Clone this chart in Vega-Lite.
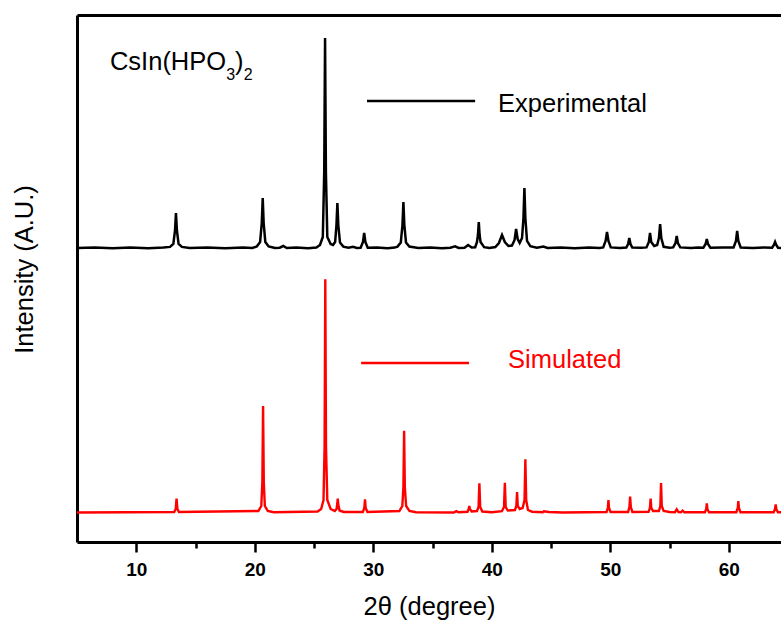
{
  "$schema": "https://vega.github.io/schema/vega-lite/v6.json",
  "width": 704,
  "height": 527,
  "autosize": {"type": "none"},
  "padding": {"left": 77, "top": 15, "right": 0, "bottom": 82},
  "config": {"view": {"stroke": null}, "font": "Liberation Sans"},
  "resolve": {"axis": {"x": "independent", "y": "independent"}},
  "datasets": {
    "experimental": [
      {"angle":5,"intensity":294},{"angle":6.5,"intensity":294.6},{"angle":8,"intensity":293.7},{"angle":9.5,"intensity":294.5},{"angle":11,"intensity":293.8},{"angle":12.3,"intensity":294.4},
      {"angle":12.85,"intensity":295.1},{"angle":13.13,"intensity":298.2},{"angle":13.27,"intensity":311.5},{"angle":13.35,"intensity":329},{"angle":13.43,"intensity":311.5},{"angle":13.57,"intensity":298.2},{"angle":13.85,"intensity":295.1},
      {"angle":14.5,"intensity":294},{"angle":16,"intensity":294.6},{"angle":17.5,"intensity":293.8},{"angle":19,"intensity":294.4},{"angle":19.8,"intensity":294},
      {"angle":20.17,"intensity":295.5},{"angle":20.45,"intensity":300},{"angle":20.59,"intensity":319},{"angle":20.67,"intensity":344},{"angle":20.75,"intensity":319},{"angle":20.89,"intensity":300},{"angle":21.17,"intensity":295.5},
      {"angle":21.7,"intensity":294},{"angle":22.1,"intensity":294.3},{"angle":22.4,"intensity":296},{"angle":22.7,"intensity":294},{"angle":23.5,"intensity":294.6},{"angle":24.5,"intensity":293.8},{"angle":25.2,"intensity":294.5},
      {"angle":25.5,"intensity":297},{"angle":25.74,"intensity":305},{"angle":25.86,"intensity":370},{"angle":25.93,"intensity":504},{"angle":26.0,"intensity":370},{"angle":26.12,"intensity":305},{"angle":26.4,"intensity":298},{"angle":26.6,"intensity":297},
      {"angle":26.78,"intensity":300},{"angle":26.89,"intensity":316.5},{"angle":26.97,"intensity":339},{"angle":27.05,"intensity":316.5},{"angle":27.19,"intensity":299.4},{"angle":27.47,"intensity":295.4},
      {"angle":27.9,"intensity":294.2},{"angle":28.3,"intensity":295.2},{"angle":28.6,"intensity":294},
      {"angle":28.93,"intensity":294.3},{"angle":29.13,"intensity":300},{"angle":29.23,"intensity":309},{"angle":29.33,"intensity":300},{"angle":29.53,"intensity":294.3},
      {"angle":30.3,"intensity":294.6},{"angle":31.2,"intensity":293.8},{"angle":31.8,"intensity":294.4},
      {"angle":32.04,"intensity":295.4},{"angle":32.32,"intensity":299.5},{"angle":32.46,"intensity":317},{"angle":32.54,"intensity":340},{"angle":32.62,"intensity":317},{"angle":32.76,"intensity":299.5},{"angle":33.04,"intensity":295.4},
      {"angle":33.8,"intensity":294},{"angle":34.8,"intensity":294.6},{"angle":35.8,"intensity":293.8},{"angle":36.5,"intensity":294.2},{"angle":36.9,"intensity":295.6},{"angle":37.2,"intensity":294},{"angle":37.7,"intensity":294.3},{"angle":38.0,"intensity":297},{"angle":38.3,"intensity":294.5},
      {"angle":38.6,"intensity":294.8},{"angle":38.75,"intensity":300},{"angle":38.83,"intensity":307},{"angle":38.9,"intensity":320},{"angle":38.97,"intensity":307},{"angle":39.05,"intensity":300},{"angle":39.35,"intensity":294.8},
      {"angle":39.8,"intensity":294},{"angle":40.3,"intensity":295},{"angle":40.6,"intensity":299},{"angle":40.86,"intensity":307},{"angle":41.1,"intensity":300},{"angle":41.4,"intensity":296},
      {"angle":41.7,"intensity":296.5},{"angle":41.92,"intensity":302},{"angle":42.05,"intensity":313},{"angle":42.18,"intensity":303},{"angle":42.35,"intensity":299},
      {"angle":42.55,"intensity":304},{"angle":42.67,"intensity":324},{"angle":42.75,"intensity":354},{"angle":42.83,"intensity":324},{"angle":42.97,"intensity":301.2},{"angle":43.25,"intensity":295.8},
      {"angle":43.8,"intensity":294.3},{"angle":44.35,"intensity":295.4},{"angle":44.7,"intensity":294},{"angle":45.8,"intensity":294.6},{"angle":47,"intensity":293.8},{"angle":48.2,"intensity":294.5},{"angle":49.1,"intensity":294},
      {"angle":49.4,"intensity":294.6},{"angle":49.6,"intensity":301},{"angle":49.72,"intensity":310},{"angle":49.84,"intensity":301},{"angle":50.04,"intensity":294.6},
      {"angle":50.8,"intensity":294},{"angle":51.35,"intensity":294.4},{"angle":51.5,"intensity":298},{"angle":51.6,"intensity":304},{"angle":51.7,"intensity":298},{"angle":51.85,"intensity":294.4},
      {"angle":52.6,"intensity":294.2},{"angle":53.05,"intensity":294.6},{"angle":53.25,"intensity":300},{"angle":53.35,"intensity":309},{"angle":53.45,"intensity":300},{"angle":53.7,"intensity":296},
      {"angle":53.95,"intensity":297},{"angle":54.1,"intensity":304},{"angle":54.2,"intensity":318},{"angle":54.3,"intensity":304},{"angle":54.5,"intensity":295.2},
      {"angle":55.0,"intensity":294.2},{"angle":55.3,"intensity":294.6},{"angle":55.5,"intensity":299},{"angle":55.6,"intensity":306},{"angle":55.7,"intensity":299},{"angle":55.9,"intensity":294.6},
      {"angle":56.8,"intensity":294},{"angle":57.4,"intensity":294.5},{"angle":57.85,"intensity":294.3},{"angle":58.04,"intensity":298},{"angle":58.14,"intensity":303},{"angle":58.24,"intensity":298},{"angle":58.44,"intensity":294.3},
      {"angle":59.5,"intensity":294.6},{"angle":60.4,"intensity":294.5},{"angle":60.6,"intensity":301},{"angle":60.7,"intensity":311},{"angle":60.8,"intensity":301},{"angle":61.0,"intensity":294.5},
      {"angle":62,"intensity":294},{"angle":63,"intensity":294.5},{"angle":63.65,"intensity":294.3},{"angle":63.8,"intensity":297},{"angle":63.9,"intensity":300},{"angle":64,"intensity":297},{"angle":64.15,"intensity":294.3},{"angle":64.4,"intensity":294},{"angle":65,"intensity":294}
    ],
    "simulated": [
      {"angle":5,"intensity":29.5},{"angle":13.2,"intensity":30},{"angle":13.33,"intensity":33},{"angle":13.4,"intensity":43.5},{"angle":13.47,"intensity":33},{"angle":13.6,"intensity":30},
      {"angle":20.3,"intensity":31},{"angle":20.55,"intensity":36},{"angle":20.64,"intensity":60},{"angle":20.7,"intensity":136},{"angle":20.76,"intensity":60},{"angle":20.85,"intensity":36},{"angle":21.1,"intensity":31},{"angle":21.6,"intensity":29.8},
      {"angle":25.3,"intensity":30.5},{"angle":25.6,"intensity":33},{"angle":25.8,"intensity":42},{"angle":25.89,"intensity":95},{"angle":25.95,"intensity":262.7},{"angle":26.01,"intensity":95},{"angle":26.12,"intensity":42},{"angle":26.4,"intensity":33},{"angle":26.75,"intensity":31},
      {"angle":26.9,"intensity":33},{"angle":26.96,"intensity":38},{"angle":27.0,"intensity":43.3},{"angle":27.04,"intensity":38},{"angle":27.15,"intensity":31.5},{"angle":27.5,"intensity":30},
      {"angle":29.12,"intensity":30},{"angle":29.24,"intensity":34},{"angle":29.3,"intensity":42.7},{"angle":29.36,"intensity":34},{"angle":29.5,"intensity":30},
      {"angle":32.2,"intensity":31},{"angle":32.45,"intensity":36},{"angle":32.54,"intensity":55},{"angle":32.6,"intensity":111.3},{"angle":32.66,"intensity":55},{"angle":32.77,"intensity":36},{"angle":33.05,"intensity":31},{"angle":33.6,"intensity":29.8},
      {"angle":36.8,"intensity":29.5},{"angle":37.0,"intensity":30.8},{"angle":37.2,"intensity":29.7},
      {"angle":37.95,"intensity":30.2},{"angle":38.05,"intensity":33},{"angle":38.1,"intensity":36},{"angle":38.15,"intensity":33},{"angle":38.3,"intensity":30.5},
      {"angle":38.75,"intensity":31},{"angle":38.88,"intensity":35},{"angle":38.95,"intensity":58.7},{"angle":39.02,"intensity":35},{"angle":39.2,"intensity":30.5},{"angle":40.0,"intensity":29.8},
      {"angle":40.85,"intensity":30.8},{"angle":41.03,"intensity":35},{"angle":41.1,"intensity":59.3},{"angle":41.17,"intensity":35},{"angle":41.35,"intensity":31.5},
      {"angle":41.95,"intensity":32},{"angle":42.07,"intensity":36},{"angle":42.13,"intensity":50},{"angle":42.19,"intensity":36},{"angle":42.35,"intensity":33},
      {"angle":42.6,"intensity":34},{"angle":42.76,"intensity":42},{"angle":42.83,"intensity":82.7},{"angle":42.9,"intensity":42},{"angle":43.05,"intensity":32},{"angle":43.4,"intensity":30.3},
      {"angle":44.3,"intensity":29.8},{"angle":44.4,"intensity":30.8},{"angle":44.8,"intensity":30},{"angle":46,"intensity":29.5},
      {"angle":49.68,"intensity":30},{"angle":49.79,"intensity":34},{"angle":49.84,"intensity":42},{"angle":49.89,"intensity":34},{"angle":50.02,"intensity":30},
      {"angle":51.5,"intensity":30},{"angle":51.61,"intensity":35},{"angle":51.67,"intensity":45.5},{"angle":51.73,"intensity":35},{"angle":51.86,"intensity":30},
      {"angle":53.23,"intensity":30.2},{"angle":53.34,"intensity":34},{"angle":53.4,"intensity":43.5},{"angle":53.46,"intensity":34},{"angle":53.6,"intensity":31},
      {"angle":54.1,"intensity":31},{"angle":54.22,"intensity":36},{"angle":54.28,"intensity":59},{"angle":54.34,"intensity":36},{"angle":54.5,"intensity":31},{"angle":55.0,"intensity":30},
      {"angle":55.45,"intensity":29.8},{"angle":55.6,"intensity":32.7},{"angle":55.75,"intensity":29.9},{"angle":55.95,"intensity":29.7},{"angle":56.1,"intensity":31.3},{"angle":56.25,"intensity":29.7},
      {"angle":57.98,"intensity":29.8},{"angle":58.09,"intensity":33},{"angle":58.14,"intensity":38.7},{"angle":58.19,"intensity":33},{"angle":58.32,"intensity":29.8},
      {"angle":60.63,"intensity":29.8},{"angle":60.75,"intensity":34},{"angle":60.8,"intensity":41},{"angle":60.85,"intensity":34},{"angle":60.98,"intensity":29.8},
      {"angle":63.78,"intensity":29.8},{"angle":63.9,"intensity":33},{"angle":63.95,"intensity":37.7},{"angle":64.0,"intensity":33},{"angle":64.14,"intensity":29.8},{"angle":65,"intensity":29.5}
    ],
    "legendLines": [
      {"angle":29.47,"intensity":441,"pattern":"Experimental"},{"angle":38.59,"intensity":441,"pattern":"Experimental"},
      {"angle":28.97,"intensity":179,"pattern":"Simulated"},{"angle":38.08,"intensity":179,"pattern":"Simulated"}
    ],
    "legendText": [
      {"angle":40.53,"intensity":438,"pattern":"Experimental"},
      {"angle":41.37,"intensity":182,"pattern":"Simulated"}
    ],
    "formula": [
      {"angle":7.78,"intensity":472,"text":"CsIn(HPO"},
      {"angle":18.34,"intensity":472,"text":")"}
    ],
    "subscripts": [
      {"angle":17.59,"intensity":462,"text":"3"},
      {"angle":19.06,"intensity":462,"text":"2"}
    ]
  },
  "layer": [
    {
      "data": {"name": "experimental"},
      "mark": {"type": "line", "clip": true, "color": "#000000", "strokeWidth": 2.5},
      "encoding": {
        "x": {"field": "angle", "type": "quantitative",
          "scale": {"domain": [5, 64.4], "nice": false, "zero": false},
          "axis": {"orient": "bottom", "values": [10,15,20,25,30,35,40,45,50,55,60],
            "title": "2θ (degree)", "titleFontSize": 25.5, "titleFontWeight": "normal", "titleColor": "#000000", "titlePadding": 15,
            "labelExpr": "datum.value % 10 === 0 ? datum.label : ''",
            "labelFontSize": 19, "labelFontWeight": "bold", "labelColor": "#000000", "labelPadding": 8, "labelFlush": false,
            "tickSize": {"condition": {"test": "datum.value % 10 === 0", "value": 10}, "value": 6},
            "tickWidth": 2.5, "tickColor": "#000000", "domainWidth": 3, "domainColor": "#000000", "grid": false}},
        "y": {"field": "intensity", "type": "quantitative",
          "scale": {"domain": [0, 527], "nice": false, "zero": false},
          "axis": {"orient": "left", "title": "Intensity (A.U.)", "titleFontSize": 25.5, "titleFontWeight": "normal", "titleColor": "#000000",
            "labels": false, "ticks": false, "domainWidth": 3, "domainColor": "#000000", "grid": false, "titlePadding": 40, "titleY": 254}}
      }
    },
    {
      "data": {"name": "simulated"},
      "mark": {"type": "line", "clip": true, "color": "#ff0000", "strokeWidth": 2.4},
      "encoding": {
        "x": {"field": "angle", "type": "quantitative", "axis": null},
        "y": {"field": "intensity", "type": "quantitative", "axis": null}
      }
    },
    {
      "data": {"name": "legendLines"},
      "mark": {"type": "line", "strokeWidth": 2.4},
      "encoding": {
        "x": {"field": "angle", "type": "quantitative",
          "axis": {"orient": "top", "labels": false, "ticks": false, "title": null, "domainWidth": 3, "domainColor": "#000000", "grid": false}},
        "y": {"field": "intensity", "type": "quantitative", "axis": null},
        "color": {"field": "pattern", "type": "nominal", "scale": {"domain": ["Experimental", "Simulated"], "range": ["#000000", "#ff0000"]}, "legend": null}
      }
    },
    {
      "data": {"name": "legendText"},
      "mark": {"type": "text", "align": "left", "baseline": "middle", "fontSize": 25.5},
      "encoding": {
        "x": {"field": "angle", "type": "quantitative", "axis": null},
        "y": {"field": "intensity", "type": "quantitative", "axis": null},
        "text": {"field": "pattern"},
        "color": {"field": "pattern", "type": "nominal", "legend": null}
      }
    },
    {
      "data": {"name": "formula"},
      "mark": {"type": "text", "align": "left", "baseline": "alphabetic", "fontSize": 25.5, "color": "#000000"},
      "encoding": {
        "x": {"field": "angle", "type": "quantitative", "axis": null},
        "y": {"field": "intensity", "type": "quantitative", "axis": null},
        "text": {"field": "text"}
      }
    },
    {
      "data": {"name": "subscripts"},
      "mark": {"type": "text", "align": "left", "baseline": "alphabetic", "fontSize": 16, "color": "#000000"},
      "encoding": {
        "x": {"field": "angle", "type": "quantitative", "axis": null},
        "y": {"field": "intensity", "type": "quantitative", "axis": null},
        "text": {"field": "text"}
      }
    }
  ]
}
